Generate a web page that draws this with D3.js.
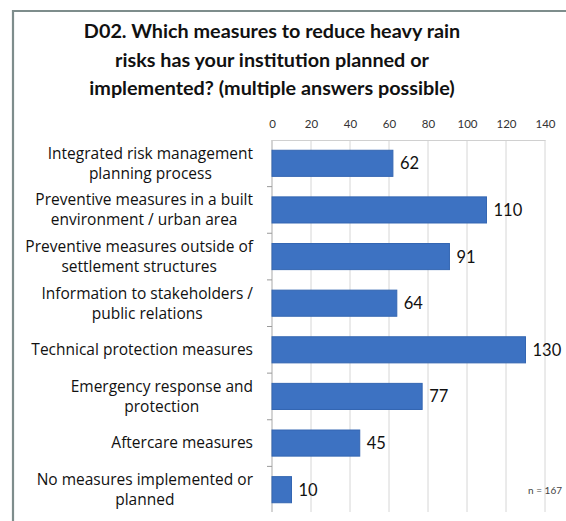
<!DOCTYPE html>
<html>
<head>
<meta charset="utf-8">
<script src="https://cdn.jsdelivr.net/npm/d3@7"></script>
<style>
  html, body { margin: 0; padding: 0; background: #fff; }
  svg { display: block; }
</style>
</head>
<body>
<svg id="chart" width="566" height="521"></svg>
<script>
// Survey answers: one entry per measure, label lines kept separately
const categories = [
  "Integrated risk management planning process",
  "Preventive measures in a built environment / urban area",
  "Preventive measures outside of settlement structures",
  "Information to stakeholders / public relations",
  "Technical protection measures",
  "Emergency response and protection",
  "Aftercare measures",
  "No measures implemented or planned"
];
const labelLines = [
  ["Integrated risk management", "planning process"],
  ["Preventive measures in a built", "environment / urban area"],
  ["Preventive measures outside of", "settlement structures"],
  ["Information to stakeholders /", "public relations"],
  ["Technical protection measures"],
  ["Emergency response and", "protection"],
  ["Aftercare measures"],
  ["No measures implemented or", "planned"]
];
const counts = [62, 110, 91, 64, 130, 77, 45, 10];
const xTicks = [0, 20, 40, 60, 80, 100, 120, 140];
const titleLines = [
  "D02. Which measures to reduce heavy rain",
  "risks has your institution planned or",
  "implemented? (multiple answers possible)"
];
const sampleNote = "n = 167";

const svg = d3.select("#chart");
const font = "Lato, 'Open Sans', sans-serif";
const labelFont = "'Open Sans', Lato, sans-serif";

// outer frame (runs past the right and bottom edges)
svg.append("path")
  .attr("d", "M13,530 L13,11 L580,11")
  .attr("fill", "none")
  .attr("stroke", "#7e8d8c")
  .attr("stroke-width", 2.2);

// title
svg.append("g").selectAll("text").data(titleLines).join("text")
  .attr("x", 272)
  .attr("y", (d, i) => 38 + i * 28.5)
  .attr("text-anchor", "middle")
  .attr("font-family", font)
  .attr("font-weight", "bold")
  .attr("font-size", 19.8)
  .attr("fill", "#111")
  .text(d => d);

const x = d3.scaleLinear().domain([0, 140]).range([272, 545]);
const y = d3.scaleBand().domain(categories).range([140, 513])
  .paddingInner(0.44).paddingOuter(0.22);

// vertical gridlines
svg.append("g").selectAll("line").data(xTicks).join("line")
  .attr("x1", d => x(d)).attr("x2", d => x(d))
  .attr("y1", 140).attr("y2", 512)
  .attr("stroke", "#d6d6d6").attr("stroke-width", 1);

// top axis with labels only
const xAxis = svg.append("g")
  .attr("transform", "translate(0,140)")
  .call(d3.axisTop(x).tickValues(xTicks).tickSize(0).tickPadding(12));
xAxis.select(".domain").attr("stroke", "#d0d0d0");
xAxis.selectAll("text")
  .attr("font-family", font).attr("font-size", 11.5).attr("fill", "#333");

// category axis line with small separators between bands
svg.append("line")
  .attr("x1", x(0)).attr("x2", x(0)).attr("y1", 140).attr("y2", 512)
  .attr("stroke", "#bdbdbd").attr("stroke-width", 1);
const bounds = categories.slice(1).map(c => y(c) - y.step() * y.paddingInner() / 2);
svg.append("g").selectAll("line").data(bounds).join("line")
  .attr("x1", x(0) - 5).attr("x2", x(0))
  .attr("y1", d => d).attr("y2", d => d)
  .attr("stroke", "#9a9a9a");

// bars
svg.append("g").selectAll("rect").data(counts).join("rect")
  .attr("x", x(0))
  .attr("y", (d, i) => y(categories[i]))
  .attr("width", d => x(d) - x(0))
  .attr("height", y.bandwidth())
  .attr("fill", "#3d72c2")
  .attr("stroke", "#3466b2")
  .attr("stroke-width", 1);

// value labels
svg.append("g").selectAll("text").data(counts).join("text")
  .attr("x", d => x(d) + 7)
  .attr("y", (d, i) => y(categories[i]) + y.bandwidth() / 2)
  .attr("dy", "0.36em")
  .attr("font-family", font).attr("font-size", 16.5).attr("fill", "#111")
  .text(d => d);

// category labels: lines centred on each other, block right-aligned
const lh = 20;
const labelG = svg.append("g");
labelLines.forEach((lines, i) => {
  const cy = y(categories[i]) + y.bandwidth() / 2;
  const g = labelG.append("g");
  const texts = g.selectAll("text").data(lines).join("text")
    .attr("y", (d, j) => cy + (j - (lines.length - 1) / 2) * lh)
    .attr("dy", "0.35em")
    .attr("text-anchor", "middle")
    .attr("font-family", labelFont).attr("font-size", 15.5).attr("fill", "#111")
    .text(d => d);
  let w = 0;
  texts.each(function () { w = Math.max(w, this.getComputedTextLength()); });
  texts.attr("x", 253 - w / 2);
});

// sample size note
svg.append("text")
  .attr("x", 562).attr("y", 490)
  .attr("dy", "0.35em")
  .attr("text-anchor", "end")
  .attr("font-family", font).attr("font-size", 10).attr("fill", "#444")
  .text(sampleNote);
</script>
</body>
</html>
